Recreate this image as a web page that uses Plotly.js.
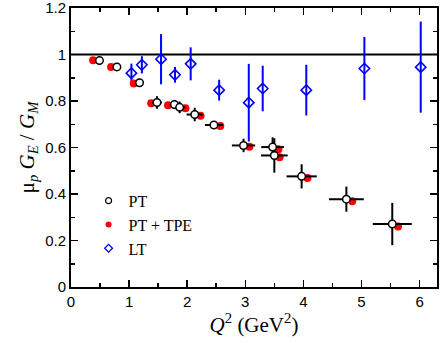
<!DOCTYPE html>
<html>
<head>
<meta charset="UTF-8">
<script src="https://cdn.plot.ly/plotly-3.0.1.min.js"></script>
<style>
  body { margin: 0; padding: 0; background: #fff; }
  #plot { width: 440px; height: 343px; }
</style>
</head>
<body>
<div id="plot"></div>
<script>
// PT (polarization transfer) points
const ptQ2 = [0.49, 0.79, 1.18, 1.48, 1.78, 1.87, 2.13, 2.46, 2.97, 3.47, 3.50, 3.97, 4.74, 5.53];
const ptRatio = [0.974, 0.947, 0.879, 0.794, 0.785, 0.773, 0.742, 0.697, 0.609, 0.602, 0.566, 0.476, 0.378, 0.271];
const ptErrY = [0.008, 0.008, 0.01, 0.027, 0.02, 0.025, 0.029, 0.016, 0.029, 0.042, 0.074, 0.052, 0.054, 0.091];
const ptErrX = [0.02, 0.02, 0.03, 0.085, 0.08, 0.1, 0.14, 0.155, 0.2, 0.195, 0.23, 0.26, 0.30, 0.335];

// PT corrected for two-photon exchange
const tpeQ2 = [0.38, 0.69, 1.08, 1.38, 1.67, 1.97, 2.23, 2.57, 3.07, 3.57, 3.59, 4.07, 4.84, 5.63];
const tpeRatio = [0.976, 0.947, 0.876, 0.791, 0.782, 0.769, 0.737, 0.693, 0.603, 0.593, 0.558, 0.469, 0.369, 0.260];

// LT (Rosenbluth) points
const ltQ2 = [1.04, 1.22, 1.55, 1.79, 2.06, 2.55, 3.06, 3.30, 4.05, 5.05, 6.02];
const ltRatio = [0.920, 0.956, 0.980, 0.913, 0.960, 0.847, 0.793, 0.854, 0.847, 0.940, 0.946];
const ltErr = [0.041, 0.037, 0.108, 0.034, 0.071, 0.045, 0.167, 0.098, 0.109, 0.136, 0.196];

const unityX = [0, 6.3];
const unityY = [1, 1];

const serif = '"Liberation Serif", "Times New Roman", serif';
const sans = '"Liberation Sans", Arial, sans-serif';

const traces = [
  {
    x: unityX, y: unityY, mode: 'lines', showlegend: false, hoverinfo: 'skip',
    line: {color: '#000', width: 2}
  },
  {
    x: ltQ2, y: ltRatio, mode: 'markers', showlegend: false,
    error_y: {type: 'data', array: ltErr, color: '#0000ff', thickness: 2, width: 0},
    marker: {symbol: 'diamond-open', size: 8, color: '#0000ff', line: {width: 1.6}}
  },
  {
    x: tpeQ2, y: tpeRatio, mode: 'markers', showlegend: false,
    marker: {symbol: 'circle', size: 8, color: '#ff0000'}
  },
  {
    x: ptQ2, y: ptRatio, mode: 'markers', showlegend: false,
    error_y: {type: 'data', array: ptErrY, color: '#000', thickness: 2, width: 0},
    error_x: {type: 'data', array: ptErrX, color: '#000', thickness: 2, width: 0},
    marker: {symbol: 'circle', size: 7.5, color: '#fff', line: {color: '#000', width: 1.5}}
  },
  // legend entries (smaller symbols, as in the figure)
  {x: [null], y: [null], mode: 'markers', name: 'PT',
   marker: {symbol: 'circle-open', size: 6, color: '#000', line: {width: 1.2}}},
  {x: [null], y: [null], mode: 'markers', name: 'PT + TPE',
   marker: {symbol: 'circle', size: 6, color: '#ff0000'}},
  {x: [null], y: [null], mode: 'markers', name: 'LT',
   marker: {symbol: 'diamond-open', size: 6, color: '#0000ff', line: {width: 1.3}}}
];

const axisCommon = {
  showgrid: false, zeroline: false,
  showline: true, linecolor: '#000', linewidth: 2, mirror: 'allticks',
  ticks: 'inside', ticklen: 7, tickwidth: 1.5, tickcolor: '#000',
  ticklabeloverflow: 'allow',
  tickfont: {family: sans, size: 15, color: '#000'}
};

const layout = {
  width: 440, height: 343,
  margin: {l: 71, r: 3, t: 8, b: 56},
  paper_bgcolor: '#fff', plot_bgcolor: '#fff',
  font: {family: serif, color: '#000'},
  xaxis: Object.assign({}, axisCommon, {
    range: [0, 6.3], dtick: 1, tick0: 0,
    minor: {dtick: 0.5, ticks: 'inside', ticklen: 4, tickcolor: '#000', tickwidth: 1.5},
    title: {text: '<i>Q</i><sup>2</sup> (GeV<sup>2</sup>)', font: {family: serif, size: 21}, standoff: 4}
  }),
  yaxis: Object.assign({}, axisCommon, {
    range: [0, 1.2004], dtick: 0.2, tick0: 0,
    minor: {dtick: 0.1, ticks: 'inside', ticklen: 4, tickcolor: '#000', tickwidth: 1.5},
    title: {text: 'μ<sub><i>p</i></sub> <i>G<sub>E</sub></i> / <i>G<sub>M</sub></i>', font: {family: serif, size: 21}, standoff: 5}
  }),
  legend: {
    x: 0.048, y: 0.37, xanchor: 'left', yanchor: 'top',
    bgcolor: 'rgba(0,0,0,0)',
    font: {family: serif, size: 16, color: '#000'},
    itemwidth: 30
  },
  showlegend: true
};

Plotly.newPlot('plot', traces, layout, {displayModeBar: false, staticPlot: true});
</script>
</body>
</html>
